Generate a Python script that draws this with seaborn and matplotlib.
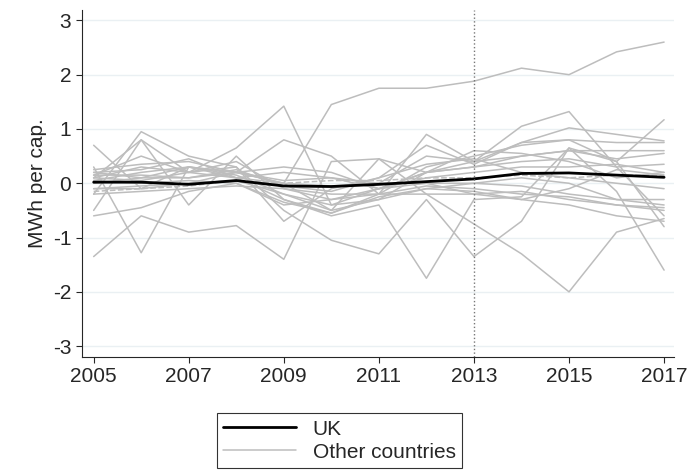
import numpy as np
import pandas as pd
import matplotlib
matplotlib.use('Agg')
import matplotlib.pyplot as plt
import seaborn as sns
from matplotlib.lines import Line2D

years = list(range(2005, 2018))
uk = [0.02, 0.02, -0.02, 0.05, -0.05, -0.06, -0.02, 0.03, 0.08, 0.18, 0.19, 0.15, 0.11]

others = [
    [0.20, 0.10, 0.30, 0.20, 0.00, 1.45, 1.75, 1.75, 1.88, 2.12, 2.00, 2.42, 2.60],
    [0.10, 0.30, 0.20, 0.65, 1.42, -0.40, -0.30, 0.20, 0.30, 0.50, 0.60, 0.60, 0.60],
    [0.70, -0.10, 0.30, 0.20, 0.80, 0.50, -0.20, 0.90, 0.40, 1.05, 1.32, 0.30, -0.60],
    [-1.35, -0.60, -0.90, -0.78, -1.40, 0.40, 0.45, 0.20, 0.40, 0.75, 1.02, 0.90, 0.78],
    [-0.20, 0.95, 0.50, 0.30, -0.70, -0.10, 0.10, 0.70, 0.35, 0.75, 0.80, 0.75, 0.75],
    [0.10, 0.80, -0.40, 0.50, -0.30, -0.60, -0.40, -1.75, -0.30, -0.25, 0.65, -0.15, -1.60],
    [-0.50, 0.80, 0.20, 0.30, -0.50, -1.05, -1.30, -0.30, -1.35, -0.70, 0.65, 0.40, -0.80],
    [0.30, -1.28, 0.30, 0.10, 0.00, -0.50, 0.45, -0.20, -0.75, -1.30, -2.00, -0.90, -0.65],
    [0.15, 0.50, 0.20, 0.40, -0.10, -0.30, -0.20, 0.30, 0.50, 0.70, 0.80, 0.40, 1.17],
    [0.25, 0.35, 0.40, 0.20, 0.30, 0.20, -0.10, 0.20, 0.60, 0.55, 0.40, 0.10, 0.20],
    [0.20, 0.25, 0.45, 0.10, 0.20, 0.10, 0.00, 0.50, 0.40, 0.50, 0.60, 0.45, 0.55],
    [0.05, 0.20, 0.30, 0.15, -0.20, -0.40, -0.10, 0.20, 0.30, 0.40, 0.45, 0.30, 0.35],
    [0.00, 0.10, 0.10, 0.20, 0.05, 0.10, -0.10, 0.10, 0.20, 0.30, 0.30, 0.35, 0.20],
    [-0.10, -0.05, 0.00, 0.05, -0.20, -0.50, -0.30, -0.10, 0.00, 0.10, 0.00, -0.30, -0.40],
    [0.10, 0.05, 0.20, 0.10, -0.30, -0.55, -0.20, -0.05, -0.10, -0.20, -0.25, -0.40, -0.50],
    [-0.60, -0.45, -0.15, 0.00, -0.40, -0.30, -0.10, 0.00, -0.20, -0.30, -0.40, -0.60, -0.70],
    [-0.20, -0.15, -0.10, -0.05, -0.10, -0.20, -0.20, -0.20, -0.20, -0.15, -0.30, -0.40, -0.45],
    [-0.10, -0.10, 0.00, 0.20, 0.00, -0.05, 0.00, 0.00, 0.00, -0.05, -0.20, -0.30, -0.30],
    [0.15, 0.15, 0.10, 0.25, -0.05, -0.15, 0.10, 0.35, 0.45, 0.20, 0.10, 0.00, -0.10],
    [0.05, 0.00, 0.05, 0.00, -0.35, -0.55, -0.25, -0.10, -0.15, -0.30, -0.10, 0.25, 0.15],
]
dashed = [-0.15, -0.10, -0.05, 0.05, 0.00, 0.05, 0.05, 0.10, 0.10, 0.15, 0.10, 0.15, 0.15]

rows = []
for i, s in enumerate(others):
    for y, v in zip(years, s):
        rows.append({'year': y, 'val': v, 'country': f'c{i}'})
df = pd.DataFrame(rows)

sns.set_style('white')
plt.rcParams['font.family'] = ['Liberation Sans', 'DejaVu Sans']
plt.rcParams['axes.unicode_minus'] = False
fig, ax = plt.subplots(figsize=(6.93, 4.76), dpi=100)
fig.subplots_adjust(left=0.118, right=0.972, top=0.98, bottom=0.25)

sns.lineplot(data=df, x='year', y='val', units='country', estimator=None,
             color='#bdbdbd', lw=1.1, ax=ax, legend=False)
ax.plot(years, dashed, color='#bdbdbd', lw=1.1, ls='--')
sns.lineplot(x=years, y=uk, color='black', lw=2, ax=ax)
ax.axvline(2013, color='#777777', ls=':', lw=1)

for t in range(-3, 4):
    ax.axhline(t, color='#eaf0f3', lw=1, zorder=0)
ax.set_ylim(-3.2, 3.2)
ax.set_xlim(2004.75, 2017.2)
ax.set_xticks(range(2005, 2018, 2))
ax.set_yticks(range(-3, 4))
ax.tick_params(labelsize=15, length=4, direction='out', left=True, bottom=True)
ax.set_xlabel('')
ax.set_ylabel('MWh per cap.', fontsize=15)
for sp in ['top', 'right']:
    ax.spines[sp].set_visible(False)

handles = [Line2D([], [], color='black', lw=2), Line2D([], [], color='#bdbdbd', lw=1.1)]
leg = fig.legend(handles, ['UK', 'Other countries'], loc='lower center',
                 bbox_to_anchor=(0.49, -0.005), fontsize=15, frameon=True,
                 fancybox=False, edgecolor='black', handlelength=3.5,
                 borderpad=0.3, labelspacing=0.2)
leg.get_frame().set_linewidth(0.8)
fig.savefig('out.png', dpi=100)
